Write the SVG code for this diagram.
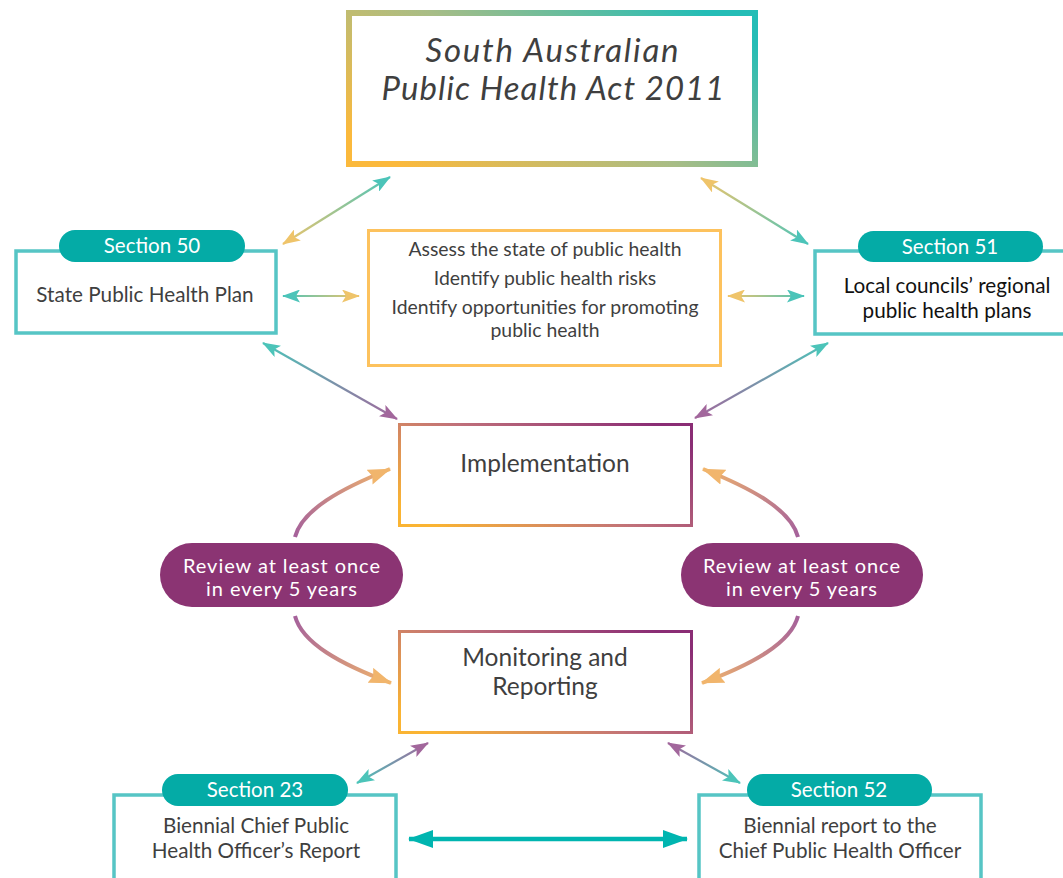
<svg xmlns="http://www.w3.org/2000/svg" width="1063" height="878" viewBox="0 0 1063 878">
<style>
  text { font-family: Lato, "Liberation Sans", sans-serif; fill: #3f3f3f; text-anchor: middle; }
  .title { font-size: 33px; font-style: italic; }
  .body { font-size: 20.7px; }
  .list { font-size: 19.4px; }
  .big { font-size: 24.5px; }
  .sec { font-size: 20.5px; fill: #ffffff; }
  .rev { font-size: 20px; fill: #ffffff; }
  .secbox { fill: #ffffff; stroke: #56c5c5; stroke-width: 3.5; }
  .pill { fill: #04aba6; }
  .revpill { fill: #8b3473; }
  .conn { fill: none; stroke-width: 2.2; }
  .curve { fill: none; stroke-width: 4; }
</style>
<defs>
  <linearGradient id="gTop" x1="0" y1="0.8" x2="1" y2="0.2">
    <stop offset="0" stop-color="#fbb93c"/>
    <stop offset="0.5" stop-color="#a8bd86"/>
    <stop offset="1" stop-color="#24bdb6"/>
  </linearGradient>
  <linearGradient id="gMid" x1="0" y1="0.8" x2="1" y2="0.2">
    <stop offset="0" stop-color="#fab433"/>
    <stop offset="0.5" stop-color="#c0707a"/>
    <stop offset="1" stop-color="#8a2d75"/>
  </linearGradient>
  <marker id="hTeal" viewBox="0 0 18 13" refX="17" refY="6.5" markerWidth="18" markerHeight="13" markerUnits="userSpaceOnUse" orient="auto-start-reverse">
    <path d="M0,0 L18,6.5 L0,13 L4,6.5 z" fill="#4cc4b9"/>
  </marker>
  <marker id="hYel" viewBox="0 0 18 13" refX="17" refY="6.5" markerWidth="18" markerHeight="13" markerUnits="userSpaceOnUse" orient="auto-start-reverse">
    <path d="M0,0 L18,6.5 L0,13 L4,6.5 z" fill="#efc46a"/>
  </marker>
  <marker id="hPur" viewBox="0 0 18 13" refX="17" refY="6.5" markerWidth="18" markerHeight="13" markerUnits="userSpaceOnUse" orient="auto-start-reverse">
    <path d="M0,0 L18,6.5 L0,13 L4,6.5 z" fill="#a2679c"/>
  </marker>
  <marker id="hOr" viewBox="0 0 23 16" refX="22" refY="8" markerWidth="23" markerHeight="16" markerUnits="userSpaceOnUse" orient="auto">
    <path d="M0,0 L23,8 L0,16 L3,8 z" fill="#f1b56c"/>
  </marker>
  <marker id="hBig" viewBox="0 0 25 18" refX="24" refY="9" markerWidth="25" markerHeight="18" markerUnits="userSpaceOnUse" orient="auto-start-reverse">
    <path d="M0,0 L25,9 L0,18 z" fill="#00b5b0"/>
  </marker>
  <linearGradient id="c1" gradientUnits="userSpaceOnUse" x1="283" y1="244" x2="390" y2="177"><stop offset="0" stop-color="#efc46a"/><stop offset="1" stop-color="#4cc4b9"/></linearGradient>
  <linearGradient id="c2" gradientUnits="userSpaceOnUse" x1="701" y1="178" x2="808" y2="244"><stop offset="0" stop-color="#efc46a"/><stop offset="1" stop-color="#4cc4b9"/></linearGradient>
  <linearGradient id="c3" gradientUnits="userSpaceOnUse" x1="283" y1="296" x2="359" y2="296"><stop offset="0" stop-color="#4cc4b9"/><stop offset="1" stop-color="#efc46a"/></linearGradient>
  <linearGradient id="c4" gradientUnits="userSpaceOnUse" x1="728" y1="296" x2="804" y2="296"><stop offset="0" stop-color="#efc46a"/><stop offset="1" stop-color="#4cc4b9"/></linearGradient>
  <linearGradient id="c5" gradientUnits="userSpaceOnUse" x1="263" y1="343" x2="397" y2="419"><stop offset="0" stop-color="#4cc4b9"/><stop offset="1" stop-color="#a2679c"/></linearGradient>
  <linearGradient id="c6" gradientUnits="userSpaceOnUse" x1="828" y1="343" x2="695" y2="418"><stop offset="0" stop-color="#4cc4b9"/><stop offset="1" stop-color="#a2679c"/></linearGradient>
  <linearGradient id="c7" gradientUnits="userSpaceOnUse" x1="428" y1="743" x2="357" y2="783"><stop offset="0" stop-color="#a2679c"/><stop offset="1" stop-color="#4cc4b9"/></linearGradient>
  <linearGradient id="c8" gradientUnits="userSpaceOnUse" x1="668" y1="743" x2="740" y2="783"><stop offset="0" stop-color="#a2679c"/><stop offset="1" stop-color="#4cc4b9"/></linearGradient>
  <linearGradient id="k1" gradientUnits="userSpaceOnUse" x1="295" y1="537" x2="390" y2="469"><stop offset="0" stop-color="#a5619b"/><stop offset="1" stop-color="#f1b56c"/></linearGradient>
  <linearGradient id="k2" gradientUnits="userSpaceOnUse" x1="295" y1="616" x2="391" y2="683"><stop offset="0" stop-color="#a5619b"/><stop offset="1" stop-color="#f1b56c"/></linearGradient>
  <linearGradient id="k3" gradientUnits="userSpaceOnUse" x1="798" y1="537" x2="703" y2="469"><stop offset="0" stop-color="#a5619b"/><stop offset="1" stop-color="#f1b56c"/></linearGradient>
  <linearGradient id="k4" gradientUnits="userSpaceOnUse" x1="798" y1="616" x2="702" y2="683"><stop offset="0" stop-color="#a5619b"/><stop offset="1" stop-color="#f1b56c"/></linearGradient>
</defs>
<rect width="1063" height="878" fill="#ffffff"/>

<g id="connectors">
  <line class="conn" x1="283" y1="244" x2="390" y2="177" stroke="url(#c1)" marker-start="url(#hYel)" marker-end="url(#hTeal)"/>
  <line class="conn" x1="701" y1="178" x2="808" y2="244" stroke="url(#c2)" marker-start="url(#hYel)" marker-end="url(#hTeal)"/>
  <line class="conn" x1="283" y1="296" x2="359" y2="296" stroke="url(#c3)" marker-start="url(#hTeal)" marker-end="url(#hYel)"/>
  <line class="conn" x1="728" y1="296" x2="804" y2="296" stroke="url(#c4)" marker-start="url(#hYel)" marker-end="url(#hTeal)"/>
  <line class="conn" x1="263" y1="343" x2="397" y2="419" stroke="url(#c5)" marker-start="url(#hTeal)" marker-end="url(#hPur)"/>
  <line class="conn" x1="828" y1="343" x2="695" y2="418" stroke="url(#c6)" marker-start="url(#hTeal)" marker-end="url(#hPur)"/>
  <line class="conn" x1="428" y1="743" x2="357" y2="783" stroke="url(#c7)" marker-start="url(#hPur)" marker-end="url(#hTeal)"/>
  <line class="conn" x1="668" y1="743" x2="740" y2="783" stroke="url(#c8)" marker-start="url(#hPur)" marker-end="url(#hTeal)"/>
  <path class="curve" d="M295,537 C302,510 340,489 390,469" stroke="url(#k1)" marker-end="url(#hOr)"/>
  <path class="curve" d="M295,616 C302,643 340,664 391,683" stroke="url(#k2)" marker-end="url(#hOr)"/>
  <path class="curve" d="M798,537 C791,510 753,489 703,469" stroke="url(#k3)" marker-end="url(#hOr)"/>
  <path class="curve" d="M798,616 C791,643 753,664 702,683" stroke="url(#k4)" marker-end="url(#hOr)"/>
  <line x1="409" y1="839" x2="687" y2="839" stroke="#00b5b0" stroke-width="4.5" marker-start="url(#hBig)" marker-end="url(#hBig)"/>
</g>

<g id="act">
  <rect x="349" y="13" width="406" height="151" fill="#ffffff" stroke="url(#gTop)" stroke-width="6"/>
  <text class="title" x="552" y="62" textLength="253" lengthAdjust="spacing">South Australian</text>
  <text class="title" x="553" y="100" textLength="343" lengthAdjust="spacing">Public Health Act 2011</text>
</g>

<g id="section50">
  <rect class="secbox" x="16" y="251" width="260" height="82"/>
  <rect class="pill" x="59" y="230" width="186" height="32" rx="16"/>
  <text class="sec" x="152" y="253">Section 50</text>
  <text class="body" x="145" y="302">State Public Health Plan</text>
</g>

<g id="purposes">
  <rect x="368.5" y="230.5" width="352" height="135" fill="#ffffff" stroke="#fdc25d" stroke-width="3"/>
  <text class="list" x="545" y="256">Assess the state of public health</text>
  <text class="list" x="545" y="285">Identify public health risks</text>
  <text class="list" x="545" y="314">Identify opportunities for promoting</text>
  <text class="list" x="545" y="337">public health</text>
</g>

<g id="section51">
  <rect class="secbox" x="815" y="251" width="260" height="83"/>
  <rect class="pill" x="858" y="231" width="185" height="31" rx="15.5"/>
  <text class="sec" x="950" y="254">Section 51</text>
  <text class="body" x="947" y="293" style="fill:#111111">Local councils’ regional</text>
  <text class="body" x="947" y="318" style="fill:#111111">public health plans</text>
</g>

<g id="implementation">
  <rect x="399.5" y="424.5" width="292" height="101" fill="#ffffff" stroke="url(#gMid)" stroke-width="3"/>
  <text class="big" x="545" y="472">Implementation</text>
</g>

<g id="review-left">
  <rect class="revpill" x="160" y="543" width="243" height="64" rx="32"/>
  <text class="rev" x="281.5" y="573" textLength="197" lengthAdjust="spacing">Review at least once</text>
  <text class="rev" x="281.5" y="596" textLength="151" lengthAdjust="spacing">in every 5 years</text>
</g>

<g id="review-right">
  <rect class="revpill" x="681" y="543" width="242" height="64" rx="32"/>
  <text class="rev" x="801.5" y="573" textLength="197" lengthAdjust="spacing">Review at least once</text>
  <text class="rev" x="801.5" y="596" textLength="151" lengthAdjust="spacing">in every 5 years</text>
</g>

<g id="monitoring">
  <rect x="399.5" y="631.5" width="292" height="101" fill="#ffffff" stroke="url(#gMid)" stroke-width="3"/>
  <text class="big" x="545" y="666">Monitoring and</text>
  <text class="big" x="545" y="695">Reporting</text>
</g>

<g id="section23">
  <rect class="secbox" x="114" y="795" width="282" height="100"/>
  <rect class="pill" x="162" y="774" width="186" height="32" rx="16"/>
  <text class="sec" x="255" y="797">Section 23</text>
  <text class="body" x="256" y="833">Biennial Chief Public</text>
  <text class="body" x="256" y="858">Health Officer’s Report</text>
</g>

<g id="section52">
  <rect class="secbox" x="699" y="795" width="282" height="100"/>
  <rect class="pill" x="747" y="774" width="185" height="32" rx="16"/>
  <text class="sec" x="839" y="797">Section 52</text>
  <text class="body" x="840" y="833">Biennial report to the</text>
  <text class="body" x="840" y="858">Chief Public Health Officer</text>
</g>
</svg>
